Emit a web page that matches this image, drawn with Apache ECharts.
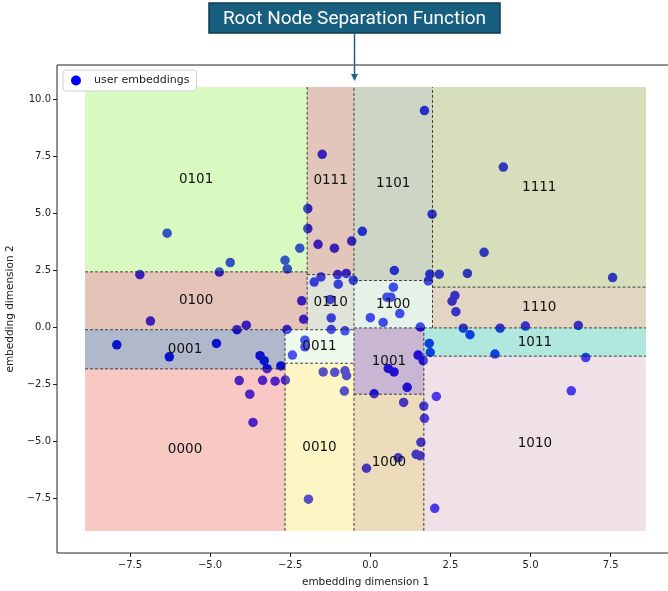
<!DOCTYPE html>
<html>
<head>
<meta charset="utf-8">
<script src="https://cdn.jsdelivr.net/npm/echarts@6/dist/echarts.min.js"></script>
<style>
  html, body { margin: 0; padding: 0; background: #fff; }
  #chart { width: 668px; height: 591px; }
</style>
</head>
<body>
<div id="chart"></div>
<script>
// user embedding points
const embedX = [-1.50, -1.95, -1.95, -6.34, -2.20, -1.63, -1.12, -0.58, -2.66, -2.59,
  -4.37, -4.71, -7.19, -1.54, -1.02, -0.75, -0.53, -1.75, -1.00, -2.14,
  -1.25, -0.25, 0.75, 1.93, 1.86, 2.15, 1.81, -2.08, -1.22, -1.22,
  -0.79, -2.60, 0.72, 0.52, 0.64, 0.00, 0.40, 0.92, 1.56, 2.64,
  2.55, 2.67, -2.04, -2.04, -2.43, -2.79, -3.22, -3.44, -3.31, -3.36,
  -2.97, -2.65, -1.47, -1.11, -0.79, -0.74, -0.81, 0.12, 0.56, 0.74,
  1.49, 1.65, 1.84, 1.87, 1.15, 2.06, -6.86, -4.16, -3.87, -7.91,
  -4.80, -6.27, -4.09, -3.76, -3.66, -1.93, 2.90, 3.11, 4.05, 4.84,
  6.49, 3.89, 6.72, 1.04, 1.67, 1.69, 1.58, 1.43, 1.55, 0.87,
  -0.12, 6.27, 2.01, 1.69, 4.15, 3.55, 3.03, 7.56];
const embedY = [7.60, 5.22, 4.34, 4.14, 3.48, 3.65, 3.48, 3.79, 2.95, 2.57,
  2.85, 2.43, 2.32, 2.22, 2.32, 2.37, 2.07, 1.99, 1.90, 1.17,
  1.23, 4.22, 2.50, 4.97, 2.34, 2.34, 2.04, 0.36, 0.42, -0.09,
  -0.15, -0.09, 1.77, 1.33, 1.33, 0.43, 0.22, 0.61, 0.02, 1.40,
  1.15, 0.69, -0.56, -0.85, -1.21, -1.69, -1.81, -1.24, -1.46, -2.32,
  -2.36, -2.31, -1.95, -1.97, -1.90, -2.12, -2.79, -2.91, -1.80, -1.95,
  -1.21, -1.46, -0.70, -1.10, -2.63, -3.03, 0.28, -0.10, 0.10, -0.76,
  -0.70, -1.29, -2.33, -2.93, -4.17, -7.54, -0.03, -0.32, -0.03, 0.06,
  0.09, -1.17, -1.32, -3.29, -3.45, -3.99, -5.04, -5.57, -5.63, -5.72,
  -6.18, -2.78, -7.94, 9.52, 7.04, 3.30, 2.37, 2.19];

// leaf regions of the separation tree: [x0, x1, y0, y1]
const regionCodes = ['0101', '0100', '0111', '0110', '0001', '0000', '0011', '0010',
  '1101', '1100', '1111', '1110', '1001', '1000', '1011', '1010'];
const regionBounds = [
  [-8.9, -1.97, 2.44, 10.55], [-8.9, -1.97, -0.1, 2.44],
  [-1.97, -0.51, 2.32, 10.55], [-1.97, -0.51, -0.1, 2.32],
  [-8.9, -2.66, -1.82, -0.1], [-8.9, -2.66, -8.93, -1.82],
  [-2.66, -0.51, -1.57, -0.1], [-2.66, -0.51, -8.93, -1.57],
  [-0.51, 1.94, 2.06, 10.55], [-0.51, 1.94, -0.02, 2.06],
  [1.94, 8.6, 1.77, 10.55], [1.94, 8.6, -0.02, 1.77],
  [-0.51, 1.67, -2.93, -0.02], [-0.51, 1.67, -8.93, -2.93],
  [1.67, 8.6, -1.26, -0.02], [1.67, 8.6, -8.93, -1.26]
];
// split lines: [x0, y0, x1, y1]
const splitLines = [
  [-0.51, -8.93, -0.51, 10.55],
  [-8.9, -0.1, -0.51, -0.1], [-0.51, -0.02, 8.6, -0.02],
  [-1.97, -0.1, -1.97, 10.55], [-2.66, -8.93, -2.66, -0.1],
  [1.94, -0.02, 1.94, 10.55], [1.67, -8.93, 1.67, -0.02],
  [-8.9, 2.44, -1.97, 2.44], [-1.97, 2.32, -0.51, 2.32],
  [-8.9, -1.82, -2.66, -1.82], [-2.66, -1.57, -0.51, -1.57],
  [-0.51, 2.06, 1.94, 2.06], [1.94, 1.77, 8.6, 1.77],
  [-0.51, -2.93, 1.67, -2.93], [1.67, -1.26, 8.6, -1.26]
];
const rootSplitX = -0.51;
const rootSplitTop = 10.55;

const xTicks = [-7.5, -5, -2.5, 0, 2.5, 5, 7.5];
const yTicks = [-7.5, -5, -2.5, 0, 2.5, 5, 7.5, 10];

const regionColors = [
  'rgba(144,241,75,0.35)', 'rgba(178,86,52,0.35)', 'rgba(175,92,58,0.35)', 'rgba(166,178,144,0.35)',
  'rgba(29,52,109,0.35)', 'rgba(235,98,86,0.35)', 'rgba(206,241,201,0.35)', 'rgba(249,229,86,0.35)',
  'rgba(112,138,86,0.35)', 'rgba(181,218,189,0.35)', 'rgba(141,161,61,0.35)', 'rgba(172,138,81,0.35)',
  'rgba(98,46,126,0.35)', 'rgba(201,155,64,0.35)', 'rgba(29,189,161,0.35)', 'rgba(212,166,189,0.35)'
];

const fmt = v => (v < 0 ? '\u2212' : '') + Math.abs(v).toFixed(1);
const tickFont = { fontFamily: 'DejaVu Sans', fontSize: 10, color: '#222' };

const chart = echarts.init(document.getElementById('chart'), null, { renderer: 'canvas' });

const option = {
  animation: false,
  grid: {
    left: 57, top: 65, right: -6, bottom: 38,
    containLabel: false, outerBoundsMode: 'none',
    show: true, borderColor: '#222', borderWidth: 1, backgroundColor: '#fff'
  },
  legend: {
    data: ['user embeddings'],
    left: 63, top: 70,
    padding: [5, 7, 5, 8],
    itemWidth: 22, itemHeight: 10,
    backgroundColor: '#fff',
    borderColor: '#d0d0d0', borderWidth: 1, borderRadius: 3,
    textStyle: { fontFamily: 'DejaVu Sans', fontSize: 11, color: '#222', padding: [0, 0, 0, 2] }
  },
  xAxis: {
    type: 'value', min: -9.775, max: 9.475,
    name: 'embedding dimension 1', nameLocation: 'middle', nameGap: 24,
    nameTextStyle: { fontFamily: 'DejaVu Sans', fontSize: 10.5, color: '#222' },
    axisLine: { show: false, onZero: false },
    axisTick: { show: true, length: 4, customValues: xTicks, lineStyle: { color: '#222' } },
    axisLabel: Object.assign({ customValues: xTicks, formatter: fmt, margin: 7 }, tickFont),
    splitLine: { show: false }
  },
  yAxis: {
    type: 'value', min: -9.9, max: 11.52,
    name: 'embedding dimension 2', nameLocation: 'middle', nameGap: 39,
    nameTextStyle: { fontFamily: 'DejaVu Sans', fontSize: 10.5, color: '#222' },
    axisLine: { show: false, onZero: false },
    axisTick: { show: true, length: 4, customValues: yTicks, lineStyle: { color: '#222' } },
    axisLabel: Object.assign({ customValues: yTicks, formatter: fmt, margin: 6 }, tickFont),
    splitLine: { show: false }
  },
  series: [
    {
      name: 'user embeddings',
      type: 'scatter',
      z: 2,
      symbolSize: 9.5,
      itemStyle: { color: '#0000ff', opacity: 1 },
      data: embedX.map((x, i) => [x, embedY[i]])
    },
    {
      type: 'custom',
      z: 3,
      silent: true,
      encode: { x: [0, 1], y: [2, 3] },
      data: regionBounds,
      renderItem: (params, api) => {
        const p0 = api.coord([api.value(0), api.value(3)]);
        const p1 = api.coord([api.value(1), api.value(2)]);
        return {
          type: 'group',
          children: [
            {
              type: 'rect',
              shape: { x: p0[0], y: p0[1], width: p1[0] - p0[0], height: p1[1] - p0[1] },
              style: { fill: regionColors[params.dataIndex] }
            },
            {
              type: 'text',
              x: (p0[0] + p1[0]) / 2, y: (p0[1] + p1[1]) / 2,
              z2: 10,
              style: {
                text: regionCodes[params.dataIndex],
                align: 'center', verticalAlign: 'middle',
                fill: '#111', font: '13.5px "DejaVu Sans"'
              }
            }
          ]
        };
      }
    },
    {
      type: 'custom',
      z: 4,
      silent: true,
      encode: { x: [0, 2], y: [1, 3] },
      data: splitLines,
      renderItem: (params, api) => {
        const a = api.coord([api.value(0), api.value(1)]);
        const b = api.coord([api.value(2), api.value(3)]);
        return {
          type: 'line',
          shape: { x1: a[0], y1: a[1], x2: b[0], y2: b[1] },
          style: { stroke: '#222', lineWidth: 1, lineDash: [3, 2], opacity: 0.85 }
        };
      }
    }
  ]
};

chart.setOption(option);

// annotation pointing at the root split
const ax = Math.round(chart.convertToPixel({ xAxisIndex: 0 }, rootSplitX)) + 0.5;
const ay = chart.convertToPixel({ yAxisIndex: 0 }, rootSplitTop);
const boxW = 291, boxTop = 3, boxH = 30;
chart.setOption({
  graphic: [
    {
      type: 'rect', z: 100,
      shape: { x: ax - boxW / 2, y: boxTop, width: boxW, height: boxH },
      style: { fill: '#185e7e', stroke: '#0e3b50', lineWidth: 1.5 }
    },
    {
      type: 'text', z: 101,
      x: ax, y: boxTop + boxH / 2 + 1,
      style: {
        text: 'Root Node Separation Function',
        align: 'center', verticalAlign: 'middle',
        fill: '#ffffff', font: '19px Roboto'
      }
    },
    {
      type: 'line', z: 100,
      shape: { x1: ax, y1: boxTop + boxH, x2: ax, y2: ay - 12 },
      style: { stroke: '#1b6688', lineWidth: 1.5 }
    },
    {
      type: 'polygon', z: 100,
      shape: { points: [[ax - 3.5, ay - 13], [ax + 3.5, ay - 13], [ax, ay - 6]] },
      style: { fill: '#1b6688' }
    }
  ]
});
</script>
</body>
</html>
